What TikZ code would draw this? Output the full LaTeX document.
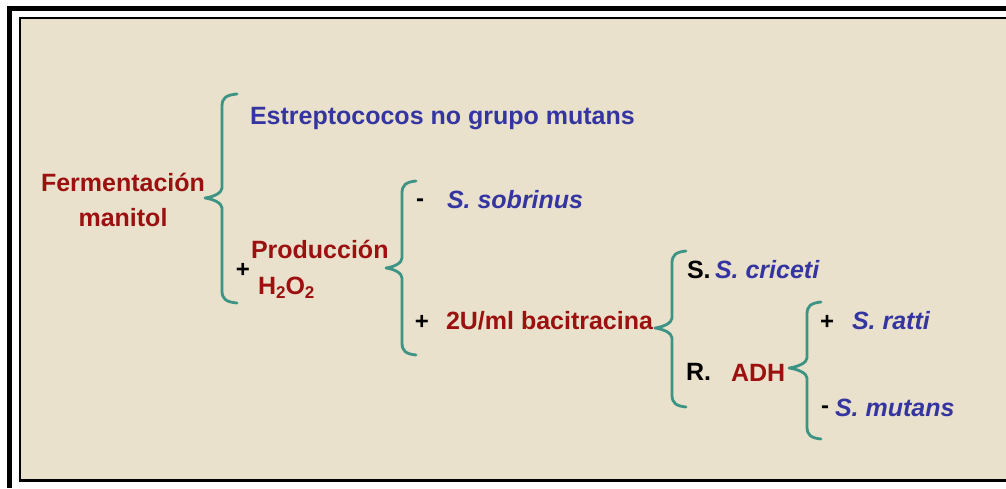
\documentclass[tikz,border=0pt]{standalone}
\usepackage{fontspec}
\setmainfont{Liberation Sans}
\definecolor{bgbeige}{HTML}{E9E1CB}
\definecolor{braceteal}{HTML}{3D9484}
\definecolor{txtblue}{HTML}{3535A2}
\definecolor{txtred}{HTML}{9C1010}
\newcommand{\lowsub}[1]{\raisebox{-0.35ex}{\fontsize{17}{20}\selectfont #1}}
\tikzset{
  bracestyle/.style={draw=braceteal, line width=2.8pt, line cap=round, line join=round},
  lbl/.style={inner sep=0pt, outer sep=0pt, anchor=base west, font=\fontsize{25}{30}\selectfont\bfseries},
  bluelbl/.style={lbl, text=txtblue, font=\fontsize{25}{30}\selectfont\bfseries\itshape},
  redlbl/.style={lbl, text=txtred},
  blacklbl/.style={lbl, text=black},
  signlbl/.style={inner sep=0pt, outer sep=0pt, anchor=center, text=black, font=\fontsize{24}{26}\selectfont\bfseries},
}
% #1 x of vertical, #2 x of tips, #3 x of point, #4 y top, #5 y middle, #6 y bottom
\newcommand{\cbrace}[6]{%
  \draw[bracestyle] (#2,#4) .. controls (#1+4,#4+1) and (#1,#4+4) .. (#1,#4+12)
    -- (#1,#5-10) .. controls (#1,#5-5) and (#3+8,#5-1) .. (#3,#5)
    .. controls (#3+8,#5+1) and (#1,#5+5) .. (#1,#5+10)
    -- (#1,#6-12) .. controls (#1,#6-4) and (#1+4,#6-1) .. (#2,#6);}
\begin{document}
\begin{tikzpicture}[x=1pt,y=-1pt]
\useasboundingbox (0,0) rectangle (1006,488);
\fill[white] (0,0) rectangle (1006,488);
% frames
\fill[black] (7,6) rectangle (1006,11);
\fill[black] (7,6) rectangle (12,488);
\fill[black] (19,17) rectangle (1006,482);
\fill[bgbeige] (21,19) rectangle (1006,479);

% texts
\node[redlbl, anchor=center, align=center, font=\fontsize{25}{35}\selectfont\bfseries] (ferm) at (123,200) {Fermentación\\manitol};
\node[bluelbl, font=\fontsize{25}{30}\selectfont\bfseries] (estr) at (250,124) {Estreptococos no grupo mutans};
\node[signlbl] (p1) at (243,270) {+};
\node[redlbl] (prod) at (251,258) {Producción};
\node[redlbl] (h2o2) at (258,294) {H\lowsub{2}O\lowsub{2}};

\node[signlbl] (m2) at (420,203) {-};
\node[bluelbl] (sobr) at (447,208) {S. sobrinus};
\node[signlbl] (p2) at (422,322) {+};
\node[redlbl] (baci) at (446,329) {2U/ml bacitracina};

\node[blacklbl] (sres) at (687,278) {S.};
\node[bluelbl] (cric) at (715,278) {S. criceti};
\node[blacklbl] (rres) at (686,380) {R.};
\node[redlbl] (adh) at (731,381) {ADH};

\node[signlbl] (p4) at (827,322) {+};
\node[bluelbl] (ratt) at (852,329) {S. ratti};
\node[signlbl] (m4) at (825,410) {-};
\node[bluelbl] (muta) at (835,416) {S. mutans};

% braces
\cbrace{222}{237}{205}{94}{198}{303}
\cbrace{402}{416}{386}{181}{268}{355}
\cbrace{672}{686}{655}{251}{328}{407}
\cbrace{807}{821}{789}{302}{368}{439}
\end{tikzpicture}
\end{document}
